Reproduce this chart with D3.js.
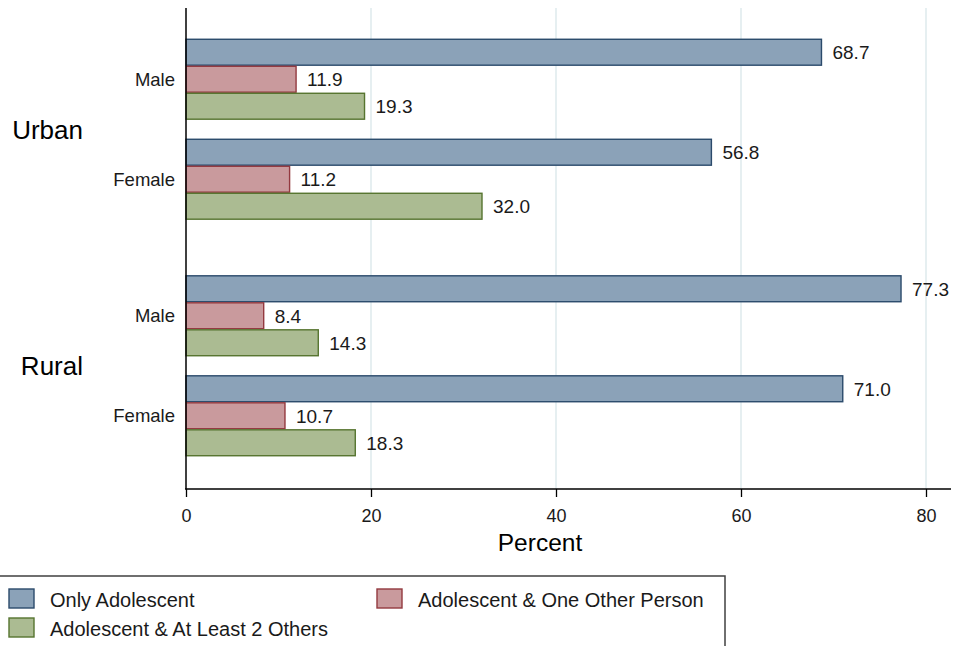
<!DOCTYPE html>
<html>
<head>
<meta charset="utf-8">
<script src="https://cdn.jsdelivr.net/npm/d3@7"></script>
<style>
  html, body { margin: 0; padding: 0; background: #fff; }
  svg { display: block; font-family: "Liberation Sans", Arial, sans-serif; }
</style>
</head>
<body>
<svg id="chart" width="955" height="646"></svg>
<script>
// Living arrangement of adolescents, by area and sex (percent)
const areas = ["Urban", "Rural"];
const sexes = ["Male", "Female"];
const seriesNames = ["Only Adolescent", "Adolescent & One Other Person", "Adolescent & At Least 2 Others"];
const onlyAdolescent   = [68.7, 56.8, 77.3, 71.0];
const oneOtherPerson   = [11.9, 11.2, 8.4, 10.7];
const atLeastTwoOthers = [19.3, 32.0, 14.3, 18.3];
const xTicks = [0, 20, 40, 60, 80];

const fills   = ["#8ba2b8", "#c99a9d", "#abbb92"];
const strokes = ["#2b4a6b", "#93393f", "#56742f"];

const seriesValues = [onlyAdolescent, oneOtherPerson, atLeastTwoOthers];
const rows = [];
areas.forEach((area, ai) => sexes.forEach((sex, si) => {
  const idx = ai * sexes.length + si;
  seriesNames.forEach((name, k) => rows.push({ area, sex, series: name, k, value: seriesValues[k][idx] }));
}));

const svg = d3.select("#chart");
const plotTop = 8, plotBottom = 489, plotLeft = 186;

const x = d3.scaleLinear().domain([0, 80]).range([plotLeft, 926]);
const yArea = d3.scalePoint().domain(areas).range([6, plotBottom]).padding(0.521);
const ySex = d3.scaleBand().domain(sexes).range([-100, 100]);
const ySeries = d3.scaleBand().domain(seriesNames).range([-40.5, 40.5]).paddingInner(0.04).paddingOuter(0.02);
const rowCenter = (area, sex) => yArea(area) + ySex(sex) + ySex.bandwidth() / 2;

// vertical gridlines
svg.append("g").selectAll("line")
  .data(xTicks.filter(t => t > 0)).join("line")
  .attr("x1", d => x(d)).attr("x2", d => x(d))
  .attr("y1", plotTop).attr("y2", plotBottom)
  .attr("stroke", "#e6eff1").attr("stroke-width", 2);

// bars
svg.append("g").selectAll("rect")
  .data(rows).join("rect")
  .attr("x", x(0))
  .attr("y", d => rowCenter(d.area, d.sex) + ySeries(d.series))
  .attr("width", d => x(d.value) - x(0))
  .attr("height", ySeries.bandwidth())
  .attr("fill", d => fills[d.k])
  .attr("stroke", d => strokes[d.k])
  .attr("stroke-width", 1.4);

// value labels
svg.append("g").selectAll("text")
  .data(rows).join("text")
  .attr("x", d => x(d.value) + 11)
  .attr("y", d => rowCenter(d.area, d.sex) + ySeries(d.series) + ySeries.bandwidth() / 2)
  .attr("dy", "0.36em")
  .attr("font-size", 19)
  .attr("fill", "#1a1a1a")
  .text(d => d.value.toFixed(1));

// sex labels
const sexRows = areas.flatMap(a => sexes.map(s => ({ a, s })));
svg.append("g").selectAll("text")
  .data(sexRows).join("text")
  .attr("x", 175)
  .attr("y", d => rowCenter(d.a, d.s))
  .attr("dy", "0.36em")
  .attr("text-anchor", "end")
  .attr("font-size", 18.5)
  .attr("fill", "#1a1a1a")
  .text(d => d.s);

// area labels
svg.append("g").selectAll("text")
  .data(areas).join("text")
  .attr("x", 83)
  .attr("y", d => yArea(d))
  .attr("dy", "0.36em")
  .attr("text-anchor", "end")
  .attr("font-size", 26)
  .attr("fill", "#000")
  .text(d => d);

// y axis line
svg.append("line")
  .attr("x1", plotLeft).attr("x2", plotLeft)
  .attr("y1", plotTop).attr("y2", plotBottom)
  .attr("stroke", "#000").attr("stroke-width", 1.5);

// x axis
const xAxis = svg.append("g")
  .attr("transform", `translate(0,${plotBottom})`)
  .call(d3.axisBottom(x).tickValues(xTicks).tickFormat(d3.format("d")).tickSize(8).tickPadding(12));
xAxis.select(".domain").remove();
xAxis.selectAll(".tick line").attr("stroke", "#000").attr("stroke-width", 1.3);
xAxis.selectAll(".tick text").attr("font-size", 18).attr("fill", "#1a1a1a")
  .attr("font-family", "\"Liberation Sans\", Arial, sans-serif");
svg.append("line")
  .attr("x1", plotLeft - 1).attr("x2", 951)
  .attr("y1", plotBottom).attr("y2", plotBottom)
  .attr("stroke", "#000").attr("stroke-width", 1.5);

svg.append("text")
  .attr("x", 540).attr("y", 542)
  .attr("dy", "0.36em")
  .attr("text-anchor", "middle")
  .attr("font-size", 24.5)
  .attr("fill", "#000")
  .text("Percent");

// legend
const legend = svg.append("g");
legend.append("rect")
  .attr("x", -1).attr("y", 576).attr("width", 726).attr("height", 80)
  .attr("fill", "#fff").attr("stroke", "#404040").attr("stroke-width", 1.5);
const legendPos = [[9, 589], [377, 589], [9, 618]];
const items = legend.selectAll("g.item")
  .data(seriesNames).join("g")
  .attr("class", "item")
  .attr("transform", (d, i) => `translate(${legendPos[i][0]},${legendPos[i][1]})`);
items.append("rect")
  .attr("width", 25).attr("height", 19)
  .attr("fill", (d, i) => fills[i])
  .attr("stroke", (d, i) => strokes[i])
  .attr("stroke-width", 1.4);
items.append("text")
  .attr("x", 41).attr("y", 10.5)
  .attr("dy", "0.36em")
  .attr("font-size", 20)
  .attr("fill", "#1a1a1a")
  .text(d => d);
</script>
</body>
</html>
